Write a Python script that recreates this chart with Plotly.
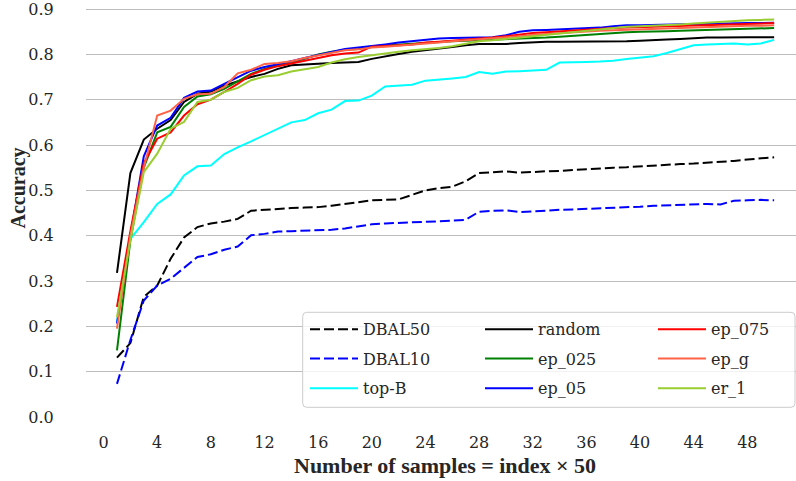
import plotly.graph_objects as go

# ---------------------------------------------------------------- data
index = list(range(1, 51))

dbal50 = [0.131, 0.163, 0.265, 0.290, 0.349, 0.396, 0.419, 0.427, 0.431, 0.437,
          0.455, 0.457, 0.460, 0.461, 0.462, 0.463, 0.466, 0.470, 0.475, 0.478,
          0.479, 0.480, 0.490, 0.500, 0.505, 0.508, 0.520, 0.538, 0.540, 0.542,
          0.539, 0.541, 0.542, 0.543, 0.545, 0.546, 0.548, 0.550, 0.551, 0.553,
          0.555, 0.557, 0.558, 0.559, 0.561, 0.562, 0.565, 0.568, 0.570, 0.573]

dbal10 = [0.073, 0.170, 0.257, 0.290, 0.305, 0.329, 0.353, 0.359, 0.369, 0.376,
          0.401, 0.404, 0.409, 0.410, 0.411, 0.412, 0.413, 0.416, 0.420, 0.425,
          0.427, 0.428, 0.430, 0.431, 0.432, 0.433, 0.435, 0.453, 0.455, 0.456,
          0.452, 0.454, 0.456, 0.457, 0.458, 0.459, 0.461, 0.462, 0.463, 0.464,
          0.466, 0.467, 0.468, 0.470, 0.470, 0.469, 0.477, 0.478, 0.479, 0.478]

top_b = [0.210, 0.393, 0.430, 0.470, 0.491, 0.533, 0.553, 0.555, 0.580, 0.595,
         0.608, 0.622, 0.637, 0.650, 0.655, 0.670, 0.678, 0.697, 0.698, 0.709,
         0.729, 0.731, 0.733, 0.742, 0.744, 0.747, 0.750, 0.761, 0.757, 0.762,
         0.763, 0.764, 0.766, 0.782, 0.782, 0.783, 0.784, 0.786, 0.790, 0.793,
         0.796, 0.803, 0.812, 0.820, 0.822, 0.823, 0.824, 0.822, 0.824, 0.832]

random_sel = [0.318, 0.538, 0.612, 0.636, 0.655, 0.695, 0.713, 0.718, 0.731, 0.740,
              0.750, 0.757, 0.768, 0.776, 0.778, 0.779, 0.781, 0.782, 0.783, 0.790,
              0.796, 0.801, 0.806, 0.809, 0.812, 0.816, 0.820, 0.823, 0.823, 0.823,
              0.825, 0.827, 0.828, 0.828, 0.828, 0.829, 0.829, 0.829, 0.829, 0.830,
              0.832, 0.833, 0.834, 0.836, 0.837, 0.837, 0.838, 0.838, 0.838, 0.838]

ep_025 = [0.147, 0.390, 0.550, 0.628, 0.640, 0.684, 0.707, 0.712, 0.724, 0.740,
          0.757, 0.768, 0.776, 0.782, 0.790, 0.800, 0.806, 0.810, 0.812, 0.818,
          0.820, 0.822, 0.824, 0.826, 0.828, 0.829, 0.830, 0.831, 0.832, 0.833,
          0.834, 0.835, 0.837, 0.839, 0.841, 0.843, 0.845, 0.848, 0.849, 0.850,
          0.850, 0.851, 0.852, 0.853, 0.854, 0.855, 0.856, 0.857, 0.857, 0.858]

ep_05 = [0.206, 0.400, 0.575, 0.643, 0.660, 0.704, 0.718, 0.720, 0.735, 0.750,
         0.764, 0.772, 0.778, 0.785, 0.792, 0.799, 0.806, 0.812, 0.815, 0.818,
         0.822, 0.826, 0.829, 0.833, 0.835, 0.836, 0.836, 0.837, 0.838, 0.842,
         0.850, 0.853, 0.854, 0.855, 0.856, 0.857, 0.859, 0.862, 0.864, 0.864,
         0.865, 0.866, 0.866, 0.867, 0.867, 0.868, 0.868, 0.869, 0.869, 0.870]

ep_075 = [0.243, 0.410, 0.560, 0.614, 0.628, 0.665, 0.690, 0.700, 0.717, 0.735,
          0.755, 0.766, 0.774, 0.780, 0.786, 0.793, 0.798, 0.802, 0.804, 0.817,
          0.818, 0.820, 0.822, 0.826, 0.828, 0.830, 0.832, 0.834, 0.837, 0.840,
          0.844, 0.847, 0.849, 0.851, 0.853, 0.855, 0.856, 0.858, 0.859, 0.860,
          0.861, 0.862, 0.863, 0.864, 0.865, 0.866, 0.867, 0.868, 0.868, 0.869]

ep_g = [0.195, 0.400, 0.550, 0.665, 0.676, 0.702, 0.712, 0.713, 0.728, 0.758,
        0.766, 0.779, 0.781, 0.785, 0.792, 0.798, 0.804, 0.809, 0.811, 0.815,
        0.817, 0.819, 0.821, 0.824, 0.826, 0.829, 0.831, 0.833, 0.835, 0.837,
        0.840, 0.843, 0.845, 0.847, 0.849, 0.851, 0.852, 0.853, 0.854, 0.856,
        0.857, 0.858, 0.859, 0.860, 0.861, 0.862, 0.862, 0.863, 0.863, 0.864]

er_1 = [0.220, 0.390, 0.540, 0.581, 0.636, 0.651, 0.695, 0.700, 0.717, 0.726,
        0.743, 0.751, 0.754, 0.762, 0.767, 0.772, 0.782, 0.789, 0.794, 0.798,
        0.803, 0.806, 0.809, 0.811, 0.814, 0.818, 0.824, 0.829, 0.831, 0.834,
        0.837, 0.840, 0.843, 0.846, 0.849, 0.852, 0.856, 0.859, 0.861, 0.862,
        0.863, 0.865, 0.866, 0.868, 0.870, 0.872, 0.874, 0.875, 0.876, 0.877]

x_ticks = list(range(0, 49, 4))
y_ticks = [round(0.1 * k, 1) for k in range(10)]

# ---------------------------------------------------------------- styling
W, H = 796, 481
M_L, M_R, M_T, M_B = 86, 0, 0, 64
PLOT_W = W - M_L - M_R
PLOT_H = H - M_T - M_B
FONT = "DejaVu Serif"
TITLE_FONT = "Liberation Serif"
TEXT_COLOR = "#262626"

series = [
    ("DBAL50", dbal50, "#000000", "10px,4px"),
    ("DBAL10", dbal10, "#0000ff", "10px,4px"),
    ("top-B", top_b, "#00ffff", "solid"),
    ("random", random_sel, "#000000", "solid"),
    ("ep_025", ep_025, "#008000", "solid"),
    ("ep_05", ep_05, "#0000ff", "solid"),
    ("ep_075", ep_075, "#ff0000", "solid"),
    ("ep_g", ep_g, "#ff6347", "solid"),
    ("er_1", er_1, "#9acd32", "solid"),
]


def paper_x(px):
    return (px - M_L) / PLOT_W


def paper_y(py):
    return (H - M_B - py) / PLOT_H


# legend grid: three columns of three entries, filled column by column
legend_cols_px = [305, 480, 653]
legend_rows_px = [329.3, 358.5, 388.3]

fig = go.Figure()
layout_legends = {}
for k, (name, vals, color, dash) in enumerate(series):
    key = "legend" if k == 0 else f"legend{k + 1}"
    fig.add_trace(go.Scatter(
        x=index, y=vals, name=name, mode="lines",
        line=dict(color=color, width=2, dash=dash),
        legend=key, hoverinfo="skip",
    ))
    col, row = divmod(k, 3)
    layout_legends[key] = dict(
        x=paper_x(legend_cols_px[col]), y=paper_y(legend_rows_px[row]),
        xanchor="left", yanchor="middle",
        bgcolor="rgba(0,0,0,0)", borderwidth=0,
        font=dict(family=FONT, size=16, color=TEXT_COLOR),
        itemwidth=48,
    )

# legend frame with rounded corners
x0, x1 = paper_x(302.7), paper_x(795)
y0, y1 = paper_y(407.3), paper_y(312.3)
rx, ry = 4 / PLOT_W, 4 / PLOT_H
frame = (f"M{x0 + rx},{y0} L{x1 - rx},{y0} Q{x1},{y0} {x1},{y0 + ry} "
         f"L{x1},{y1 - ry} Q{x1},{y1} {x1 - rx},{y1} L{x0 + rx},{y1} "
         f"Q{x0},{y1} {x0},{y1 - ry} L{x0},{y0 + ry} Q{x0},{y0} {x0 + rx},{y0} Z")

fig.update_layout(
    width=W, height=H,
    margin=dict(l=M_L, r=M_R, t=M_T, b=M_B),
    paper_bgcolor="white", plot_bgcolor="white",
    font=dict(family=FONT, size=16, color=TEXT_COLOR),
    showlegend=True,
    shapes=[dict(type="path", path=frame, xref="paper", yref="paper",
                 fillcolor="rgba(255,255,255,0.8)",
                 line=dict(color="#cccccc", width=1), layer="above")],
    annotations=[
        dict(text="<b>Accuracy</b>", textangle=-90, showarrow=False,
             xref="paper", yref="paper", x=paper_x(18), y=paper_y(188.5),
             xanchor="center", yanchor="middle",
             font=dict(family=TITLE_FONT, size=20, color=TEXT_COLOR)),
        dict(text="<b>Number of samples = index × 50</b>", showarrow=False,
             xref="paper", yref="paper", x=paper_x(445), y=paper_y(465),
             xanchor="center", yanchor="middle",
             font=dict(family=TITLE_FONT, size=22, color=TEXT_COLOR)),
    ],
    **layout_legends,
)

fig.update_xaxes(
    range=[-1.31, 51.63], tickvals=x_ticks, ticktext=[str(t) for t in x_ticks],
    showgrid=False, zeroline=False, showline=False,
    ticks="outside", ticklen=11, tickcolor="rgba(0,0,0,0)",
    tickfont=dict(family=FONT, size=16, color=TEXT_COLOR),
)
fig.update_yaxes(
    range=[0, PLOT_H / 453.3], tickvals=y_ticks,
    ticktext=[f"{t:.1f}" for t in y_ticks],
    showgrid=True, gridcolor="#bdbdbd", gridwidth=1.2,
    zeroline=True, zerolinecolor="white", zerolinewidth=2,
    showline=False, ticklabeloverflow="allow",
    ticks="outside", ticklen=28, tickcolor="rgba(0,0,0,0)",
    tickfont=dict(family=FONT, size=16, color=TEXT_COLOR),
)

fig.write_html("out.html")
